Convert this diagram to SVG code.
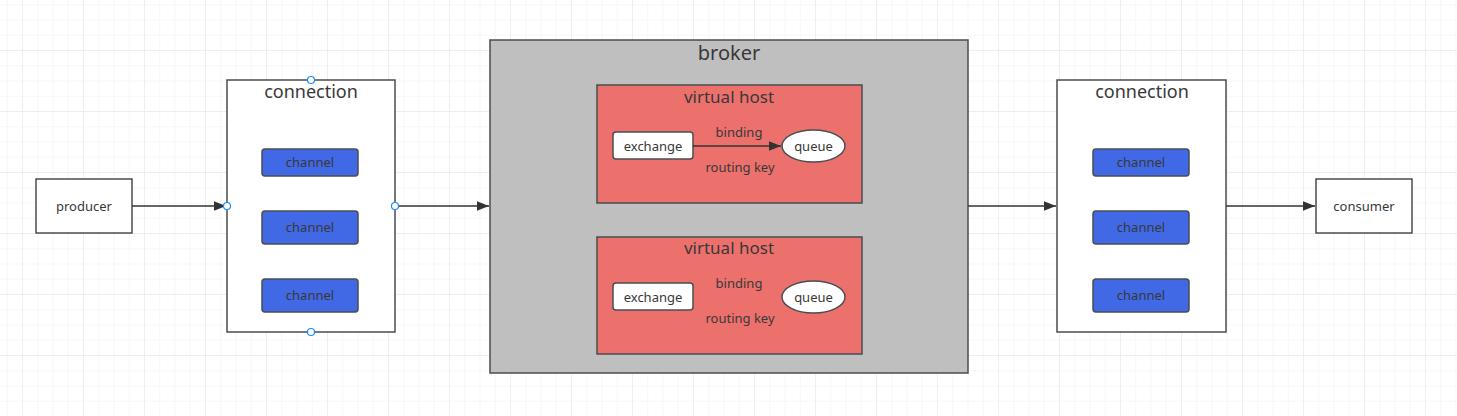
<svg xmlns="http://www.w3.org/2000/svg" width="1457" height="416" viewBox="0 0 1457 416">
<defs>
<pattern id="minor" x="22" y="-11" width="15.25" height="15.25" patternUnits="userSpaceOnUse">
<path d="M0 0H15.25M0 0V15.25" fill="none" stroke="#f5f5f5" stroke-width="1.5"/>
</pattern>
<pattern id="major" x="22" y="-11" width="61" height="61" patternUnits="userSpaceOnUse">
<path d="M0 0H61M0 0V61" fill="none" stroke="#ececec" stroke-width="1.6"/>
</pattern>
<marker id="arr" viewBox="0 0 10 10" refX="10" refY="5" markerWidth="12" markerHeight="12" markerUnits="userSpaceOnUse" orient="auto">
<path d="M0 1L10 5L0 9Z" fill="#333"/>
</marker>
</defs>
<style>
.box{stroke:#4a4d52;stroke-width:1.5}
.t{font-family:"Noto Sans","Open Sans",sans-serif;fill:#383838;text-anchor:middle}
.edge{stroke:#333;stroke-width:1.5;fill:none;marker-end:url(#arr)}
.pt{fill:#fff;stroke:#1a8cff;stroke-width:1.2}
</style>
<rect width="1457" height="416" fill="#fff"/>
<rect width="1457" height="416" fill="url(#minor)"/>
<rect width="1457" height="416" fill="url(#major)"/>

<g id="producer">
<rect class="box" x="36" y="179" width="96" height="54" fill="#fff"/>
<text class="t" x="84" y="211" font-size="13">producer</text>
</g>

<g id="connection-left">
<rect class="box" x="227" y="80" width="168" height="252" fill="#fff"/>
<text class="t" x="311" y="98" font-size="18">connection</text>
<rect class="box" x="262" y="149" width="96" height="27" rx="3" fill="#4169e5"/>
<text class="t" x="310" y="167" font-size="13">channel</text>
<rect class="box" x="262" y="211" width="96" height="33" rx="3" fill="#4169e5"/>
<text class="t" x="310" y="232" font-size="13">channel</text>
<rect class="box" x="262" y="279" width="96" height="33" rx="3" fill="#4169e5"/>
<text class="t" x="310" y="300" font-size="13">channel</text>
</g>

<g id="broker">
<rect class="box" x="490" y="40" width="478" height="333" fill="#bfbfbf"/>
<text class="t" x="729" y="60" font-size="20">broker</text>
</g>

<g id="vhost1">
<rect class="box" x="597" y="85" width="265" height="118" fill="#ec716d"/>
<text class="t" x="729" y="103" font-size="17">virtual host</text>
<rect class="box" x="613" y="132" width="80" height="27" rx="3" fill="#fff"/>
<text class="t" x="653" y="151" font-size="13">exchange</text>
<ellipse class="box" cx="813.5" cy="146" rx="31.5" ry="16" fill="#fff"/>
<text class="t" x="813.5" y="151" font-size="13">queue</text>
<text class="t" x="739" y="137" font-size="13">binding</text>
<text class="t" x="740" y="172" font-size="13">routing key</text>
</g>

<g id="vhost2">
<rect class="box" x="597" y="237" width="265" height="117" fill="#ec716d"/>
<text class="t" x="729" y="254" font-size="17">virtual host</text>
<rect class="box" x="613" y="283" width="80" height="27" rx="3" fill="#fff"/>
<text class="t" x="653" y="302" font-size="13">exchange</text>
<ellipse class="box" cx="813.5" cy="297" rx="31.5" ry="16" fill="#fff"/>
<text class="t" x="813.5" y="302" font-size="13">queue</text>
<text class="t" x="739" y="288" font-size="13">binding</text>
<text class="t" x="740" y="323" font-size="13">routing key</text>
</g>

<g id="connection-right">
<rect class="box" x="1057" y="80" width="169" height="252" fill="#fff"/>
<text class="t" x="1142" y="98" font-size="18">connection</text>
<rect class="box" x="1093" y="149" width="96" height="27" rx="3" fill="#4169e5"/>
<text class="t" x="1141" y="167" font-size="13">channel</text>
<rect class="box" x="1093" y="211" width="96" height="33" rx="3" fill="#4169e5"/>
<text class="t" x="1141" y="232" font-size="13">channel</text>
<rect class="box" x="1093" y="279" width="96" height="33" rx="3" fill="#4169e5"/>
<text class="t" x="1141" y="300" font-size="13">channel</text>
</g>

<g id="consumer">
<rect class="box" x="1316" y="179" width="96" height="54" fill="#fff"/>
<text class="t" x="1364" y="211" font-size="13">consumer</text>
</g>

<g id="connectors">
<path class="edge" d="M132 206H226"/>
<path class="edge" d="M395 206H489"/>
<path class="edge" d="M693 146H781"/>
<path class="edge" d="M968 206H1056"/>
<path class="edge" d="M1226 206H1315"/>
</g>

<g id="handles">
<circle class="pt" cx="311" cy="80" r="3.5"/>
<circle class="pt" cx="227" cy="206" r="3.5"/>
<circle class="pt" cx="395" cy="206" r="3.5"/>
<circle class="pt" cx="311" cy="332" r="3.5"/>
</g>
</svg>
